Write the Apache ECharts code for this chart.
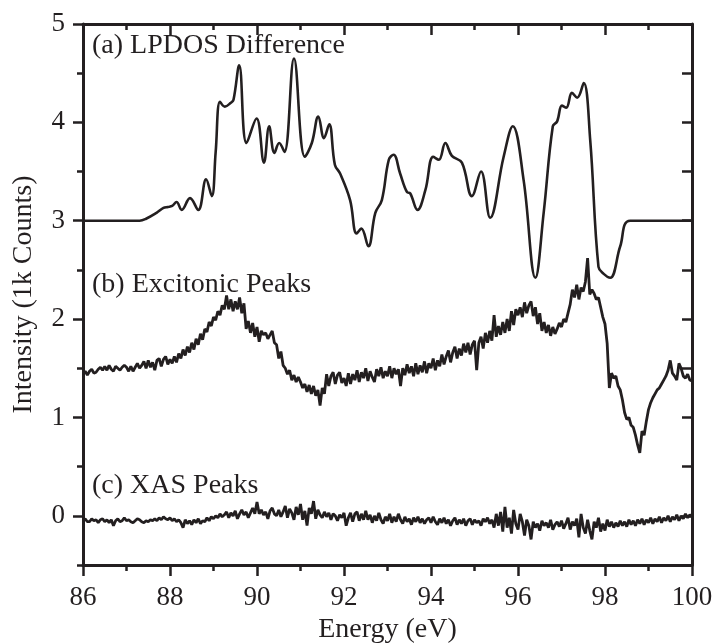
<!DOCTYPE html>
<html>
<head>
<meta charset="utf-8">
<script src="https://cdn.jsdelivr.net/npm/echarts@6/dist/echarts.min.js"></script>
<style>
  html, body { margin: 0; padding: 0; background: #fff; }
  #spectra { width: 717px; height: 644px; }
</style>
</head>
<body>
<div id="spectra"></div>
<script>
// (a) LPDOS difference, read as [energy, intensity] points
const lpdos = [
  [86, 3], [87.3, 3], [87.45, 3.02], [87.69, 3.08], [87.85, 3.13], [87.95, 3.14], [88.05, 3.15],
  [88.15, 3.19], [88.27, 3.11], [88.46, 3.23], [88.65, 3.11], [88.83, 3.42], [88.96, 3.25],
  [89.05, 3.7], [89.15, 4.21], [89.26, 4.16], [89.4, 4.2], [89.46, 4.23], [89.59, 4.58],
  [89.76, 3.79], [89.99, 4.04], [90.16, 3.59], [90.28, 3.96], [90.4, 3.69], [90.51, 3.79],
  [90.63, 3.7], [90.85, 4.65], [91.1, 3.65], [91.26, 3.79], [91.41, 4.06], [91.54, 3.84],
  [91.66, 3.98], [91.79, 3.57], [91.91, 3.48], [92.14, 3.21], [92.29, 2.87], [92.4, 2.92],
  [92.56, 2.74], [92.72, 3.08], [92.87, 3.21], [93.03, 3.62], [93.14, 3.67], [93.29, 3.48],
  [93.45, 3.29], [93.52, 3.28], [93.69, 3.11], [93.87, 3.31], [94.05, 3.65], [94.18, 3.62],
  [94.33, 3.79], [94.48, 3.66], [94.71, 3.59], [94.94, 3.25], [95.15, 3.5], [95.36, 3.03],
  [95.67, 3.65], [95.88, 3.96], [96.13, 3.41], [96.4, 2.42], [96.59, 3.08], [96.8, 3.96],
  [96.9, 4.01], [97.01, 4.17], [97.11, 4.15], [97.24, 4.3], [97.36, 4.25], [97.51, 4.4],
  [97.66, 3.82], [97.85, 2.53], [97.97, 2.46], [98.12, 2.42], [98.35, 2.74], [98.58, 3.0],
  [100, 3]
];

// (b) and (c) are sampled every 0.05 eV from 86 to 100
const sampleStart = 86;
const sampleStep = 0.05;

const excitonic = [
  1.44, 1.47, 1.43, 1.47, 1.49, 1.45, 1.46, 1.49, 1.51, 1.48, 1.52, 1.48, 1.53, 1.49, 1.47, 1.52, 1.50, 1.48, 1.51, 1.53,
  1.51, 1.47, 1.52, 1.47, 1.51, 1.55, 1.50, 1.53, 1.57, 1.50, 1.58, 1.51, 1.56, 1.48, 1.58, 1.60, 1.52, 1.59, 1.62, 1.54,
  1.59, 1.55, 1.62, 1.56, 1.65, 1.60, 1.69, 1.63, 1.72, 1.66, 1.76, 1.69, 1.80, 1.74, 1.85, 1.79, 1.90, 1.87, 1.97, 1.93,
  2.02, 1.99, 2.08, 2.04, 2.14, 2.10, 2.24, 2.10, 2.20, 2.08, 2.18, 2.10, 2.22, 2.06, 2.16, 1.90, 1.98, 1.86, 1.96, 1.82,
  1.92, 1.77, 1.88, 1.84, 1.86, 1.80, 1.84, 1.88, 1.76, 1.74, 1.60, 1.67, 1.53, 1.50, 1.44, 1.48, 1.38, 1.43, 1.36, 1.41,
  1.36, 1.30, 1.34, 1.26, 1.33, 1.24, 1.32, 1.22, 1.28, 1.12, 1.30, 1.24, 1.44, 1.32, 1.42, 1.46, 1.34, 1.43, 1.46, 1.35,
  1.40, 1.32, 1.45, 1.34, 1.44, 1.38, 1.48, 1.36, 1.46, 1.40, 1.50, 1.37, 1.47, 1.41, 1.36, 1.49, 1.42, 1.51, 1.40, 1.47,
  1.42, 1.52, 1.40, 1.50, 1.44, 1.49, 1.32, 1.50, 1.43, 1.54, 1.45, 1.52, 1.42, 1.55, 1.44, 1.53, 1.46, 1.57, 1.45, 1.55,
  1.50, 1.60, 1.48, 1.58, 1.52, 1.64, 1.54, 1.62, 1.68, 1.56, 1.66, 1.72, 1.60, 1.70, 1.63, 1.75, 1.66, 1.76, 1.64, 1.74,
  1.78, 1.48, 1.76, 1.82, 1.70, 1.86, 1.76, 1.88, 1.78, 2.04, 1.82, 1.93, 1.84, 1.97, 1.86, 2.00, 1.88, 2.08, 1.94, 2.10,
  2.04, 2.12, 2.02, 2.17, 2.06, 2.14, 2.18, 2.03, 2.12, 1.95, 2.06, 1.88, 1.97, 1.86, 1.94, 1.83, 1.92, 1.85, 1.90, 1.96,
  1.92, 2.00, 1.97, 2.06, 2.15, 2.30, 2.22, 2.35, 2.20, 2.32, 2.28, 2.38, 2.62, 2.25, 2.30, 2.26, 2.20, 2.22, 2.12, 2.02,
  1.95, 1.75, 1.30, 1.45, 1.40, 1.42, 1.32, 1.28, 1.18, 1.05, 0.98, 1.00, 0.92, 0.90, 0.82, 0.72, 0.64, 0.86, 0.82, 0.96,
  1.08, 1.15, 1.20, 1.24, 1.28, 1.30, 1.34, 1.38, 1.42, 1.48, 1.58, 1.45, 1.42, 1.38, 1.55, 1.50, 1.42, 1.40, 1.44, 1.38,
  1.37
];

const xas = [
  -0.05, -0.03, -0.06, -0.06, -0.03, -0.05, -0.04, -0.07, -0.04, -0.03, -0.06, -0.04, -0.07, -0.04, -0.10, -0.05, -0.03, -0.06, -0.05, -0.02,
  -0.05, -0.04, -0.06, -0.07, -0.05, -0.03, -0.04, -0.06, -0.07, -0.05, -0.06, -0.04, -0.05, -0.03, -0.05, -0.02, -0.04, -0.01, -0.03, -0.04,
  -0.02, -0.05, -0.03, -0.06, -0.04, -0.07, -0.12, -0.04, -0.08, -0.05, -0.09, -0.04, -0.07, -0.03, -0.08, -0.05, -0.06, -0.02, -0.05, -0.01,
  -0.03, 0.00, -0.02, 0.02, -0.01, 0.01, 0.04, -0.02, 0.03, 0.00, 0.05, -0.03, 0.02, 0.06, 0.01, 0.04, -0.02, 0.03, 0.08, 0.02,
  0.14, 0.02, 0.06, 0.01, 0.04, -0.03, 0.05, 0.08, 0.02, 0.00, 0.06, -0.01, 0.04, 0.10, -0.02, 0.07, 0.03, -0.04, 0.09, 0.01,
  0.12, -0.04, 0.05, -0.10, 0.08, 0.02, 0.15, -0.03, 0.06, 0.01, -0.02, 0.04, -0.01, 0.03, -0.04, 0.02, 0.00, -0.05, 0.01, -0.02,
  0.03, -0.10, -0.02, 0.03, -0.06, 0.02, 0.04, -0.05, 0.02, -0.04, 0.05, -0.04, 0.01, -0.07, 0.00, -0.05, 0.03, -0.04, -0.08, -0.01,
  -0.05, 0.02, -0.07, -0.01, -0.06, 0.02, -0.04, -0.08, -0.01, -0.06, -0.03, -0.09, -0.02, -0.06, -0.01, -0.07, -0.03, -0.08, -0.04, -0.02,
  -0.07, -0.01, -0.06, -0.09, -0.03, -0.07, -0.02, -0.08, -0.04, -0.10, -0.05, -0.02, -0.09, -0.04, -0.08, -0.03, -0.10, -0.05, -0.03, -0.09,
  -0.04, -0.07, -0.05, -0.10, -0.03, -0.06, -0.02, -0.08, -0.04, -0.12, 0.02, -0.10, 0.04, -0.16, 0.09, -0.12, -0.02, -0.18, 0.06, -0.08,
  -0.14, 0.02, -0.06, -0.20, -0.04, -0.10, -0.24, -0.06, -0.12, -0.08, -0.15, -0.05, -0.10, -0.07, -0.12, -0.04, -0.14, -0.09, -0.06, -0.11,
  -0.05, -0.13, -0.08, -0.02, -0.14, -0.06, -0.10, -0.03, -0.22, 0.02, -0.12, -0.18, -0.04, -0.15, -0.24, -0.06, -0.12, -0.02, -0.16, -0.08,
  -0.15, -0.04, -0.11, -0.06, -0.12, -0.07, -0.11, -0.05, -0.10, -0.06, -0.11, -0.04, -0.09, -0.05, -0.10, -0.04, -0.08, -0.03, -0.09, -0.04,
  -0.07, -0.02, -0.08, -0.03, -0.06, -0.01, -0.07, -0.02, -0.05, 0.00, -0.06, -0.01, -0.04, 0.01, -0.05, 0.00, -0.03, 0.02, -0.02, 0.01,
  -0.01
];

const xTicks = [86, 88, 90, 92, 94, 96, 98, 100];
const yMajor = [0, 1, 2, 3, 4, 5];
const yMinor = [-0.5, 0.5, 1.5, 2.5, 3.5, 4.5];

const labels = [
  {text: '(a) LPDOS Difference', y: 46},
  {text: '(b) Excitonic Peaks', y: 285},
  {text: '(c) XAS Peaks', y: 486},
];

const ink = '#231f20';
const serif = '"Liberation Serif", "Times New Roman", serif';

const withEnergy = (values) => values.map((v, i) => [+(sampleStart + i * sampleStep).toFixed(2), v]);

// fixed plot box, v6 would otherwise shrink it to fit the labels
const gridBox = {left: 83, right: 25, top: 24, bottom: 79, containLabel: false, outerBoundsMode: 'none'};
const axisLine = {show: true, onZero: false, lineStyle: {color: ink, width: 3}};
const tickStyle = {color: ink, width: 2.5};
const textStyle = {fontFamily: serif, fontSize: 27, color: ink};

const lineSeries = (name, data, smooth, width) => ({
  name,
  type: 'line',
  data,
  smooth,
  showSymbol: false,
  silent: true,
  animation: false,
  lineStyle: {color: ink, width},
});

const myChart = echarts.init(document.getElementById('spectra'));
const option = {
  animation: false,
  grid: [gridBox, gridBox],
  xAxis: [
    {
      type: 'value', min: 86, max: 100, interval: 2, position: 'bottom',
      axisLine,
      axisTick: {length: 11, lineStyle: tickStyle},
      minorTick: {show: true, splitNumber: 2, length: 6, lineStyle: tickStyle},
      splitLine: {show: false},
      axisLabel: {...textStyle, margin: 19, customValues: xTicks},
      name: 'Energy (eV)',
      nameLocation: 'middle',
      nameGap: 51,
      nameTextStyle: {fontFamily: serif, fontSize: 28, color: ink},
    },
    {
      type: 'value', min: 86, max: 100, interval: 2, position: 'top',
      axisLine,
      axisTick: {inside: true, length: 11, lineStyle: tickStyle},
      minorTick: {show: true, splitNumber: 2, length: 6, lineStyle: tickStyle},
      splitLine: {show: false},
      axisLabel: {show: false},
    },
    {
      type: 'value', gridIndex: 1, min: 86, max: 100, show: false,
    },
  ],
  yAxis: [
    {
      type: 'value', min: -0.5, max: 5, position: 'left',
      axisLine,
      axisTick: {length: 10, lineStyle: tickStyle, customValues: yMajor},
      splitLine: {show: false},
      axisLabel: {...textStyle, margin: 18, customValues: yMajor},
      name: 'Intensity (1k Counts)',
      nameLocation: 'middle',
      nameGap: 45,
      nameTextStyle: {fontFamily: serif, fontSize: 28, color: ink},
    },
    {
      type: 'value', min: -0.5, max: 5, position: 'right',
      axisLine,
      axisTick: {inside: true, length: 10, lineStyle: tickStyle, customValues: yMajor.concat(yMinor)},
      splitLine: {show: false},
      axisLabel: {show: false},
    },
    {
      type: 'value', gridIndex: 1, min: -0.5, max: 5, position: 'left',
      axisLine: {show: false},
      axisTick: {length: 6, lineStyle: tickStyle, customValues: yMinor},
      splitLine: {show: false},
      axisLabel: {show: false},
    },
  ],
  graphic: labels.map((item) => ({
    type: 'text',
    x: 92,
    y: item.y,
    silent: true,
    style: {
      text: item.text,
      font: '28px ' + serif,
      fill: ink,
      textVerticalAlign: 'middle',
      verticalAlign: 'middle',
    },
  })),
  series: [
    lineSeries('LPDOS Difference', lpdos, 0.4, 2.6),
    lineSeries('Excitonic Peaks', withEnergy(excitonic), false, 2.8),
    lineSeries('XAS Peaks', withEnergy(xas), false, 2.8),
  ],
};
myChart.setOption(option);
</script>
</body>
</html>
